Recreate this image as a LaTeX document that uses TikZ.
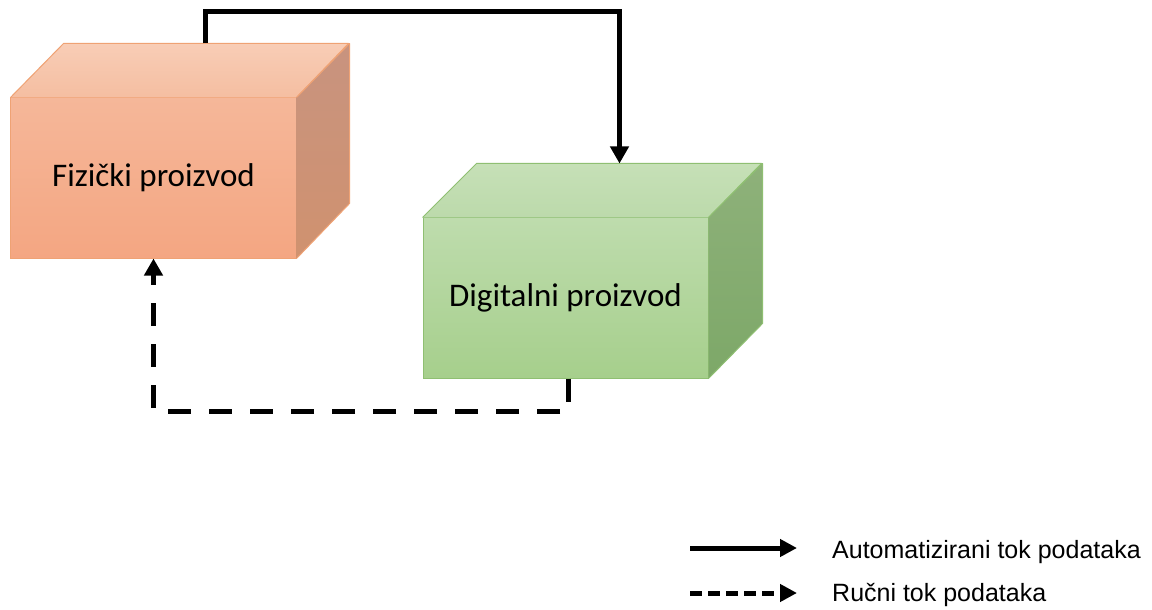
\documentclass[tikz,border=0pt]{standalone}
\usepackage{fontspec}
\setmainfont{Liberation Sans}
\newfontfamily\boxfont{Carlito}
\usetikzlibrary{arrows.meta}
\definecolor{orFrontT}{HTML}{F5B799}
\definecolor{orFrontB}{HTML}{F4A682}
\definecolor{orTopB}{HTML}{F8CDB6}
\definecolor{orTopF}{HTML}{F5BEA1}
\definecolor{orSideT}{HTML}{C8937F}
\definecolor{orSideB}{HTML}{D0926F}
\definecolor{orEdge}{HTML}{EFA274}
\definecolor{grFrontT}{HTML}{BEDCAD}
\definecolor{grFrontB}{HTML}{A6CF8C}
\definecolor{grTopB}{HTML}{C6E0B7}
\definecolor{grTopF}{HTML}{BCDAAB}
\definecolor{grSideT}{HTML}{8EB17A}
\definecolor{grSideB}{HTML}{7DA868}
\definecolor{grEdge}{HTML}{8FBF72}
\tikzset{
  frontbox/.style={inner sep=0pt, minimum width=285bp, minimum height=160bp,
    line width=1bp, font=\boxfont\fontsize{33bp}{38bp}\selectfont},
  autoflow/.style={line width=5bp, -{Triangle[length=17bp,width=18bp]}},
  manflow/.style={line width=5bp, dash pattern=on 23bp off 18bp, -{Triangle[length=17bp,width=18bp]}},
  legauto/.style={line width=5bp, -{Triangle[length=17bp,width=17bp]}},
  legman/.style={line width=5bp, dash pattern=on 12bp off 6bp, -{Triangle[length=17bp,width=17bp]}},
  legtext/.style={anchor=base west, inner sep=0pt, font=\fontsize{25bp}{30bp}\selectfont}
}
\begin{document}
\begin{tikzpicture}[x=1bp,y=-1bp]
\useasboundingbox[fill=white] (0,0) rectangle (1152,610);
% Fizicki proizvod
\node[frontbox, draw=orEdge, top color=orFrontT, bottom color=orFrontB] (fiz) at (153.5,178) {Fizički proizvod};
\shade[top color=orTopB, bottom color=orTopF] (fiz.north west) -- ++(53,-54) -- ++(285,0) -- (fiz.north east) -- cycle;
\draw[orEdge, line width=1bp, line join=round] (fiz.north west) -- ++(53,-54) -- ++(285,0) -- (fiz.north east);
\shade[top color=orSideT, bottom color=orSideB] (fiz.north east) -- ++(53,-54) -- ++(0,160) -- (fiz.south east) -- cycle;
\draw[orEdge, line width=1bp, line join=round] (fiz.north east) -- ++(53,-54) -- ++(0,160) -- (fiz.south east);
% Digitalni proizvod
\node[frontbox, draw=grEdge, top color=grFrontT, bottom color=grFrontB] (dig) at (565.5,298) {Digitalni proizvod};
\shade[top color=grTopB, bottom color=grTopF] (dig.north west) -- ++(54,-54) -- ++(285,0) -- (dig.north east) -- cycle;
\draw[grEdge, line width=1bp, line join=round] (dig.north west) -- ++(54,-54) -- ++(285,0) -- (dig.north east);
\shade[top color=grSideT, bottom color=grSideB] (dig.north east) -- ++(54,-54) -- ++(0,160) -- (dig.south east) -- cycle;
\draw[grEdge, line width=1bp, line join=round] (dig.north east) -- ++(54,-54) -- ++(0,160) -- (dig.south east);
% connectors
\coordinate (fizback) at ([xshift=195bp,yshift=54bp]fiz.north west);
\coordinate (digback) at ([xshift=197bp,yshift=54bp]dig.north west);
\draw[autoflow] (fizback) -- ([yshift=32bp]fizback) -| (digback);
\coordinate (digbot) at ([xshift=2.5bp]dig.south);
\draw[manflow] (digbot) -- ++(0,33) -| (fiz.south);
% legend
\coordinate (la1) at (690,548);
\coordinate (la2) at (797,548);
\coordinate (lm1) at (690,593);
\coordinate (lm2) at (797,593);
\draw[legauto] (la1) -- (la2);
\draw[legman] (lm1) -- (lm2);
\node[legtext] (lta) at (832,558) {Automatizirani tok podataka};
\node[legtext] (ltm) at (832,601) {Ručni tok podataka};
\end{tikzpicture}
\end{document}
